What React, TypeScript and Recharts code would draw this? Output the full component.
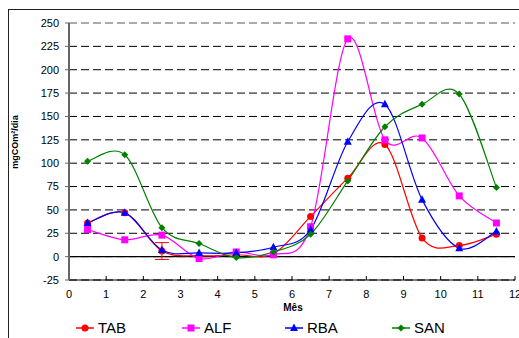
import React from 'react';
import { LineChart, Line, XAxis, YAxis, CartesianGrid, ReferenceLine, ErrorBar, Legend } from 'recharts';

const months = [0.5, 1.5, 2.5, 3.5, 4.5, 5.5, 6.5, 7.5, 8.5, 9.5, 10.5, 11.5];
const tab = [36, 47, 6, 1, 2, 3, 43, 84, 120, 20, 12, 24];
const tabErr = [null, null, 9, null, null, null, null, null, null, null, null, null];
const alf = [29, 18, 23, -2, 5, 2, 32, 233, 125, 127, 65, 36];
const rba = [36, 47, 7, 4, 4, 10, 29, 123, 163, 61, 9, 27];
const san = [102, 109, 31, 14, -1, 5, 24, 81, 139, 163, 174, 74];

const xTicks = [0, 1, 2, 3, 4, 5, 6, 7, 8, 9, 10, 11, 12];
const yTicks = [-25, 0, 25, 50, 75, 100, 125, 150, 175, 200, 225, 250];

const data = months.map((m, i) => ({
  m,
  TAB: tab[i],
  tabErr: tabErr[i],
  ALF: alf[i],
  RBA: rba[i],
  SAN: san[i],
}));

const FONT = "Arial, 'Liberation Sans', sans-serif";

// Excel-like smoothed line (Catmull-Rom as cubic bezier)
const smooth = (context: any) => {
  let pts: number[][] = [];
  return {
    areaStart() {},
    areaEnd() {},
    lineStart() {
      pts = [];
    },
    point(x: number, y: number) {
      pts.push([+x, +y]);
    },
    lineEnd() {
      if (!pts.length) return;
      context.moveTo(pts[0][0], pts[0][1]);
      for (let i = 0; i < pts.length - 1; i++) {
        const p0 = pts[i - 1] || pts[i];
        const p1 = pts[i];
        const p2 = pts[i + 1];
        const p3 = pts[i + 2] || p2;
        context.bezierCurveTo(
          p1[0] + (p2[0] - p0[0]) / 6,
          p1[1] + (p2[1] - p0[1]) / 6,
          p2[0] - (p3[0] - p1[0]) / 6,
          p2[1] - (p3[1] - p1[1]) / 6,
          p2[0],
          p2[1]
        );
      }
    },
  };
};

const Marker = ({ kind, cx, cy, color }: any) => {
  if (cx == null || cy == null) return null;
  if (kind === 'circle') return <circle cx={cx} cy={cy} r={3.5} fill={color} />;
  if (kind === 'square') return <rect x={cx - 3.5} y={cy - 3.5} width={7} height={7} fill={color} />;
  if (kind === 'triangle')
    return <polygon points={`${cx},${cy - 4.5} ${cx + 4},${cy + 3} ${cx - 4},${cy + 3}`} fill={color} />;
  return <polygon points={`${cx},${cy - 3.5} ${cx + 3.5},${cy} ${cx},${cy + 3.5} ${cx - 3.5},${cy}`} fill={color} />;
};

const series = [
  { key: 'TAB', color: '#FF0000', kind: 'circle' },
  { key: 'ALF', color: '#FF00FF', kind: 'square' },
  { key: 'RBA', color: '#0000FF', kind: 'triangle' },
  { key: 'SAN', color: '#008000', kind: 'diamond' },
];

const legendX = [76, 182, 285, 392];

const LegendContent = () => (
  <div style={{ position: 'relative', height: 20, fontFamily: FONT }}>
    {series.map((s, i) => (
      <div key={s.key} style={{ position: 'absolute', left: legendX[i], top: 3, display: 'flex', alignItems: 'center' }}>
        <svg width={18} height={12}>
          <line x1={0} y1={6} x2={18} y2={6} stroke={s.color} strokeWidth={1.5} />
          <Marker kind={s.kind} cx={9} cy={6} color={s.color} />
        </svg>
        <span style={{ fontSize: 15, marginLeft: 4, color: '#000', lineHeight: '14px' }}>{s.key}</span>
      </div>
    ))}
  </div>
);

export default function App() {
  return (
    <div style={{ position: 'absolute', left: 0, top: 0, width: 519, height: 338, overflow: 'hidden', background: '#fff' }}>
      <div style={{ position: 'absolute', left: 2, top: -15, fontFamily: FONT, fontSize: 16 }}>Amazonia.</div>
      <div style={{ position: 'absolute', left: 8, top: 9, width: 600, height: 400, border: '1px solid #222' }} />
      <div style={{ position: 'absolute', left: 0, top: 0 }}>
        <LineChart width={519} height={338} data={data} margin={{ top: 23, right: 4, bottom: 0, left: 0 }}>
          <CartesianGrid vertical={false} stroke="#000" strokeDasharray="8 4" />
          <XAxis
            type="number"
            dataKey="m"
            domain={[0, 12]}
            ticks={xTicks}
            interval={0}
            height={38}
            stroke="#000"
            tickSize={-4}
            tickMargin={14}
            tick={{ fill: '#000', fontSize: 11, fontFamily: FONT }}
            label={(p: any) => (
              <text x={293} y={311} textAnchor="middle" fontFamily={FONT} fontSize={10} fontWeight="bold" fill="#000">
                Mês
              </text>
            )}
          />
          <YAxis
            type="number"
            domain={[-25, 250]}
            ticks={yTicks}
            interval={0}
            width={69}
            axisLine={{ stroke: '#666', strokeWidth: 2 }}
            tickLine={{ stroke: '#666' }}
            tickSize={4}
            tickMargin={6}
            tick={{ fill: '#000', fontSize: 11, fontFamily: FONT }}
            label={(p: any) => (
              <text
                x={18}
                y={142}
                transform="rotate(-90 18 142)"
                textAnchor="middle"
                fontFamily={FONT}
                fontSize={9}
                fontWeight="bold"
                fill="#000"
              >
                mgCOm²/dia
              </text>
            )}
          />
          <ReferenceLine y={250} stroke="#aaa" strokeWidth={2} strokeDasharray="8 4" />
          <ReferenceLine y={0} stroke="#000" strokeWidth={1.2} />
          <Legend verticalAlign="bottom" height={20} content={<LegendContent />} />
          {series.map((s) => (
            <Line
              key={s.key}
              dataKey={s.key}
              type={smooth as any}
              stroke={s.color}
              strokeWidth={1.2}
              isAnimationActive={false}
              dot={(p: any) => <Marker key={`${s.key}-${p.index}`} kind={s.kind} cx={p.cx} cy={p.cy} color={s.color} />}
              activeDot={false}
            >
              {s.key === 'TAB' && <ErrorBar dataKey="tabErr" width={7} stroke="#FF0000" strokeWidth={1} direction="y" />}
            </Line>
          ))}
        </LineChart>
      </div>
    </div>
  );
}
